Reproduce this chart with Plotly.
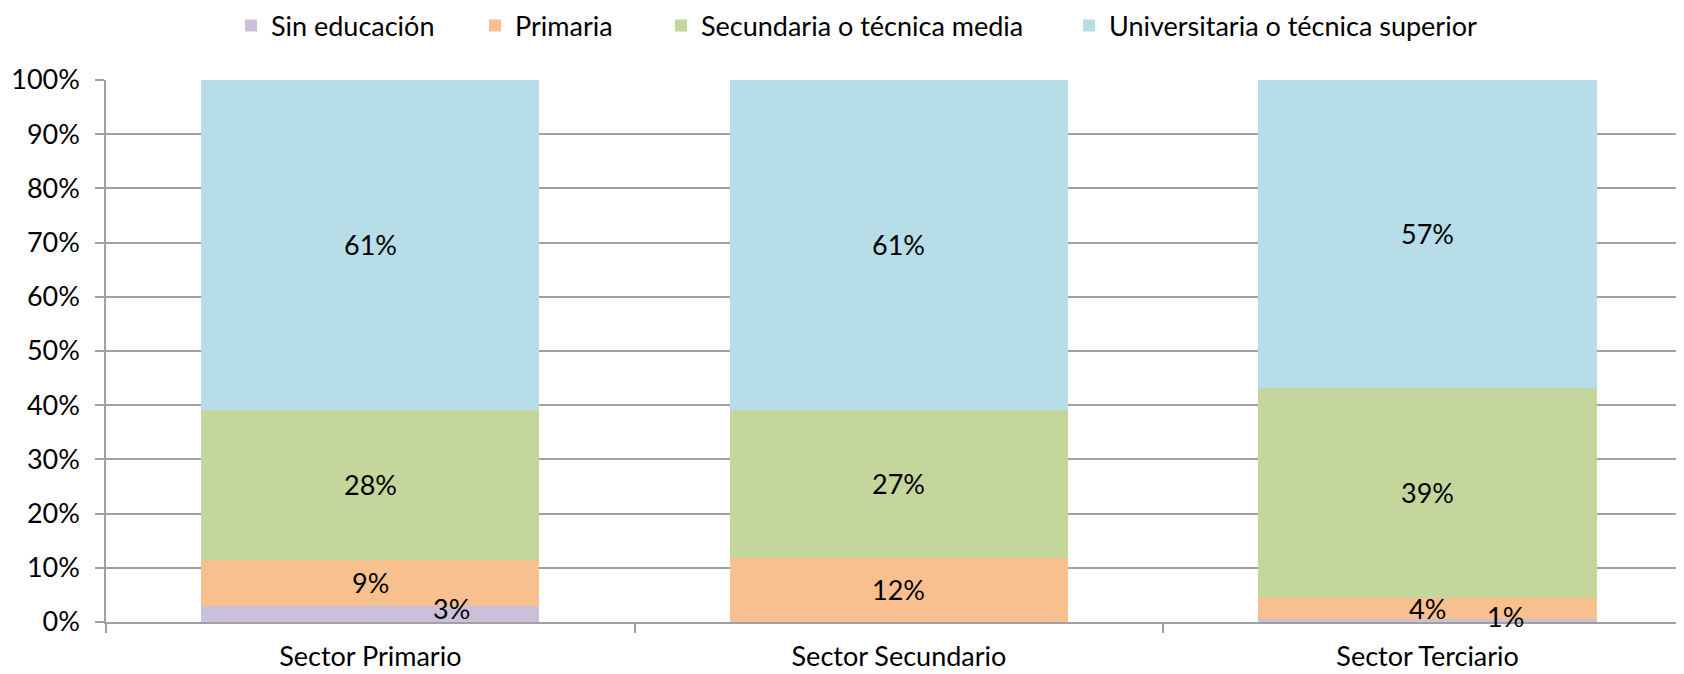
import plotly.graph_objects as go

categories = ["Sector Primario", "Sector Secundario", "Sector Terciario"]
series_names = ["Sin educación", "Primaria", "Secundaria o técnica media",
                "Universitaria o técnica superior"]
sin_educacion = [0.029, 0.0, 0.006]
primaria = [0.086, 0.119, 0.039]
secundaria = [0.277, 0.273, 0.387]
universitaria = [0.608, 0.608, 0.568]
y_ticks = [0.0, 0.1, 0.2, 0.3, 0.4, 0.5, 0.6, 0.7, 0.8, 0.9, 1.0]

series_values = [sin_educacion, primaria, secundaria, universitaria]
colors = ["#CBC0DA", "#F9C08F", "#C4D69C", "#B7DDE8"]

FONT = "Lato"
FS = 27
W, H = 1676, 666  # page body has an 8px margin
legend_ids = ["legend", "legend2", "legend3", "legend4"]
legend_text_left = [263, 507, 693, 1101]  # where each legend entry's text begins
TEXT_OFFSET = 40

fig = go.Figure()
for i, (name, vals) in enumerate(zip(series_names, series_values)):
    fig.add_trace(go.Bar(
        x=categories, y=vals, name=name, width=0.64,
        marker=dict(color=colors[i], line=dict(width=0)),
        legend=legend_ids[i],
    ))

# data labels at middle of each segment; small segments nudged (as in original)
nudge = {(0, 0): (81, 6), (0, 2): (78, 4)}
annotations = []
for ci, cat in enumerate(categories):
    base = 0.0
    for si, vals in enumerate(series_values):
        v = vals[ci]
        if v > 0:
            dx, dy = nudge.get((si, ci), (0, 0))
            annotations.append(dict(
                x=cat, y=base + v / 2, xref="x", yref="y",
                text=f"{int(v * 100 + 0.5)}%", showarrow=False,
                xshift=dx, yshift=dy,
                font=dict(family=FONT, size=FS, color="#000000"),
            ))
        base += v

legends = {}
for lid, tx in zip(legend_ids, legend_text_left):
    legends[lid] = dict(
        orientation="h", xref="container", yref="container",
        x=(tx - TEXT_OFFSET) / W, xanchor="left", y=1 - 18 / H, yanchor="middle",
        font=dict(family=FONT, size=FS, color="#000000"),
        itemwidth=30, bgcolor="rgba(0,0,0,0)",
    )

fig.update_layout(
    barmode="stack",
    width=W, height=H,
    margin=dict(l=98, r=0, t=72, b=52, autoexpand=False),
    paper_bgcolor="white", plot_bgcolor="white",
    font=dict(family=FONT, size=FS, color="#000000"),
    annotations=annotations,
    showlegend=True,
    **legends,
)
fig.update_xaxes(
    range=[-0.5, 2.485], showline=True, linecolor="#A0A0A0", linewidth=1.5,
    ticks="outside", ticklen=9, tickcolor="#A0A0A0", tickwidth=1.5,
    tickson="boundaries", showgrid=False, automargin=False,
    ticklabelstandoff=10,
    tickfont=dict(family=FONT, size=FS, color="#000000"),
)
fig.update_yaxes(
    range=[0, 1], tickvals=y_ticks, tickformat=".0%",
    showline=True, linecolor="#A0A0A0", linewidth=1.5,
    ticks="outside", ticklen=9, tickcolor="#A0A0A0", tickwidth=1.5,
    showgrid=True, gridcolor="#A0A0A0", gridwidth=1.5,
    zeroline=False, ticklabelstandoff=10, automargin=False,
    tickfont=dict(family=FONT, size=FS, color="#000000"),
)

fig.write_html("out.html")
